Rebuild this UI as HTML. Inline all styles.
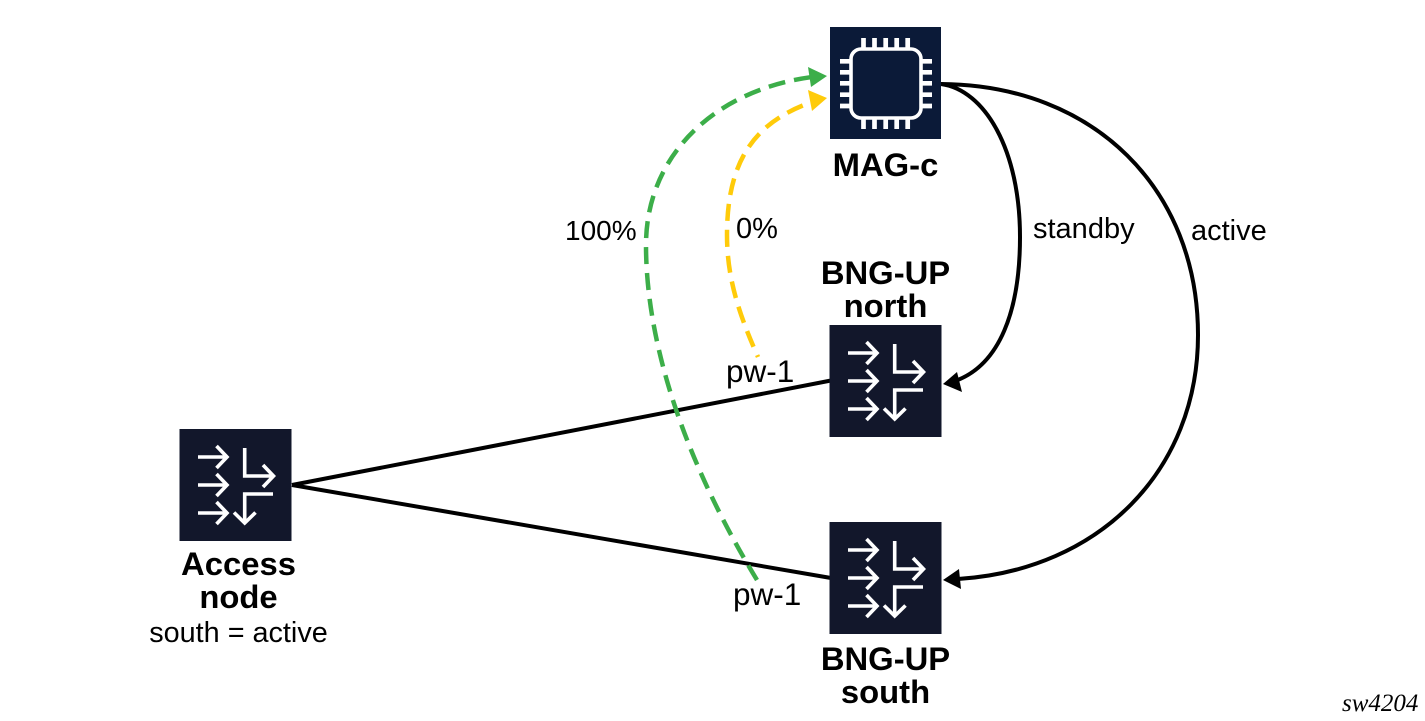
<!DOCTYPE html>
<html><head><meta charset="utf-8"><style>
html,body{margin:0;padding:0;background:#fff;width:1425px;height:721px;overflow:hidden}
svg{display:block}
text{font-family:"Liberation Sans",Arial,sans-serif;fill:#000}
.b{font-weight:bold;font-size:32.800px;text-anchor:middle}
.r{font-size:29px}
</style></head><body>
<svg width="1425" height="721" viewBox="0 0 1425 721" xmlns="http://www.w3.org/2000/svg">
<defs>
<g id="rt">
<rect x="-0.500" y="0" width="112" height="112" fill="#12172b"/>
<g fill="none" stroke="#fff" stroke-width="3.600">
<path d="M18 28H47M36.500 17L47 28L36.500 39"/>
<path d="M18 56H47M36.500 45L47 56L36.500 67"/>
<path d="M18 84H47M36.500 73L47 84L36.500 95"/>
<path d="M64.700 19V47H93M83 36L93.500 47L83 58"/>
<path d="M93 65H64.700V94M54 83.500L64.700 94L75.500 83.500"/>
</g>
</g>
</defs>

<!-- connectors -->
<g fill="none" stroke="#000" stroke-width="4">
<path d="M292 485L831 380.500"/>
<path d="M292 485L831 578"/>
<path d="M941 84C985 90 1020 150 1020 237C1020 310 1000 365 955 381"/>
<path d="M941 84C1095 85 1198 190 1198 335C1198 470 1100 570 958 579"/>
</g>
<path d="M943 384L957 372L962 392Z" fill="#000"/>
<path d="M943 580L959 569L961 589Z" fill="#000"/>

<path d="M758 357C737 310 727 275 727 235C727 160 755 122 812 102" fill="none" stroke="#ffcb0a" stroke-width="4.500" stroke-dasharray="17 9" stroke-dashoffset="15"/>
<path d="M827 98L808 90L812 111Z" fill="#ffcb0a"/>
<path d="M757 580C690 470 646 350 646 245C646 155 715 90 812 77" fill="none" stroke="#3cae49" stroke-width="4.500" stroke-dasharray="17 9"/>
<path d="M827 76L808 67L811 87Z" fill="#3cae49"/>

<!-- MAG-c -->
<rect x="830" y="27" width="111" height="112" fill="#0b1a38"/>
<g fill="none" stroke="#fff">
<rect x="851" y="49" width="70" height="69" rx="10" stroke-width="3.600"/>
<g stroke-width="4.700">
<path d="M863.500 38V48M874.500 38V48M885.700 38V48M896.700 38V48M907.700 38V48"/>
<path d="M863.500 119V129M874.500 119V129M885.700 119V129M896.700 119V129M907.700 119V129"/>
<path d="M840 61.300H850M840 72.300H850M840 83.300H850M840 94.700H850M840 106H850"/>
<path d="M922 61.300H932M922 72.300H932M922 83.300H932M922 94.700H932M922 106H932"/>
</g>
</g>

<use href="#rt" x="830" y="325"/>
<use href="#rt" x="830" y="522"/>
<use href="#rt" x="180" y="429"/>

<text class="b" x="885.500" y="176">MAG-c</text>
<text class="b" x="885.500" y="284">BNG-UP</text>
<text class="b" x="885.500" y="317">north</text>
<text class="b" x="885.500" y="670">BNG-UP</text>
<text class="b" x="885.500" y="703">south</text>
<text class="b" x="238.500" y="575">Access</text>
<text class="b" x="238.500" y="608">node</text>
<text class="r" x="238.500" y="642" text-anchor="middle" style="font-size:28.800px">south = active</text>
<text class="r" x="1033" y="238">standby</text>
<text class="r" x="1191" y="240">active</text>
<text class="r" x="565" y="240" style="font-size:28px">100%</text>
<text class="r" x="736" y="238">0%</text>
<text class="r" x="726" y="382" style="font-size:31.500px">pw-1</text>
<text class="r" x="733" y="605" style="font-size:31.500px">pw-1</text>
<text x="1342" y="711" style="font-family:'Liberation Serif',serif;font-style:italic;font-size:25px">sw4204</text>
</svg>
</body></html>
